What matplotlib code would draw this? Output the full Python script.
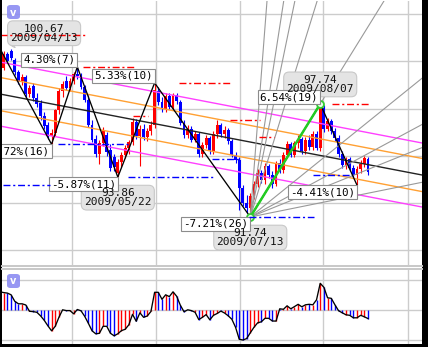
import numpy as np
import pandas as pd
import matplotlib
matplotlib.use("Agg")
import matplotlib.pyplot as plt
from matplotlib.lines import Line2D
from matplotlib.patches import FancyBboxPatch

# USD/JPY daily bars, first bar = 2009-04-06
opens = [100.60, 100.85, 100.00, 99.65, 100.42, 100.55, 100.08, 99.45, 98.95, 99.20,
         98.25, 98.70, 98.05, 97.80, 97.10, 96.60, 96.05, 96.20, 97.40, 98.45,
         98.95, 98.60, 98.95, 99.35, 99.25, 98.65, 97.95, 96.65, 95.90, 95.10,
         95.65, 96.10, 95.30, 94.95, 94.10, 94.65, 95.05, 95.40, 95.70, 96.80,
         96.05, 96.40, 96.00, 96.30, 96.60, 98.45, 97.85, 97.45, 98.15, 97.60,
         98.20, 97.85, 96.75, 96.10, 96.40, 95.85, 96.15, 95.10, 95.55, 95.95,
         95.25, 96.15, 96.65, 96.15, 96.35, 95.75, 95.05, 94.75, 93.30, 92.50,
         92.20, 92.85, 93.50, 94.10, 93.70, 94.45, 93.95, 93.50, 94.60, 94.25,
         95.05, 95.60, 95.05, 95.65, 95.90, 95.25, 95.85, 95.45, 96.15, 95.40,
         97.55, 96.40, 96.85, 96.30, 95.95, 95.10, 94.50, 94.80, 94.35, 93.95,
         94.30, 94.55, 94.80]
highs = [101.40, 101.00, 100.20, 100.55, 100.50, 100.67, 100.20, 99.55, 99.35, 99.30,
         98.75, 98.85, 98.30, 97.95, 97.30, 96.80, 96.40, 97.50, 98.60, 98.95,
         99.25, 99.10, 99.45, 99.71, 99.40, 98.75, 98.20, 96.90, 96.10, 95.85,
         96.50, 96.25, 95.60, 95.10, 94.80, 95.20, 95.55, 95.85, 97.00, 96.95,
         96.60, 96.70, 96.45, 96.85, 98.86, 98.65, 98.10, 98.30, 98.30, 98.35,
         98.35, 97.95, 96.90, 96.60, 96.55, 96.30, 96.25, 95.70, 96.10, 96.05,
         96.30, 96.90, 96.75, 96.55, 96.45, 95.90, 95.20, 94.90, 93.45, 92.90,
         93.00, 93.65, 94.30, 94.25, 94.60, 94.55, 94.20, 94.70, 94.80, 95.20,
         95.75, 95.70, 95.80, 96.10, 96.00, 96.00, 96.10, 96.30, 96.30, 97.74,
         97.70, 97.00, 96.95, 96.45, 96.10, 95.25, 94.95, 94.90, 94.50, 94.45,
         94.75, 95.00, 94.90]
lows = [100.30, 99.80, 99.40, 99.55, 99.90, 100.10, 99.30, 98.80, 98.75, 98.10,
        98.10, 97.90, 97.60, 96.90, 96.40, 95.90, 95.60, 96.05, 97.20, 98.10,
        98.50, 98.45, 98.80, 99.05, 98.55, 97.85, 96.50, 95.70, 94.95, 94.55,
        95.50, 95.00, 94.20, 94.20, 93.86, 94.40, 94.85, 95.10, 95.55, 95.90,
        94.45, 95.85, 95.80, 96.10, 96.45, 97.70, 97.30, 97.30, 97.45, 97.45,
        97.75, 96.60, 95.95, 95.95, 95.70, 95.70, 94.95, 94.95, 95.40, 95.10,
        95.10, 95.95, 96.00, 95.95, 95.60, 94.90, 94.60, 92.10, 92.30, 91.95,
        91.74, 92.70, 93.35, 93.55, 93.50, 93.80, 93.30, 93.40, 94.10, 94.10,
        94.90, 94.90, 94.95, 95.40, 95.10, 95.10, 95.30, 95.30, 95.30, 95.25,
        96.25, 96.30, 96.15, 95.80, 94.95, 94.35, 94.30, 94.20, 93.80, 93.43,
        94.10, 94.40, 93.95]
closes = [100.85, 100.00, 99.65, 100.42, 100.02, 100.20, 99.44, 98.95, 99.20, 98.25,
          98.60, 98.05, 97.75, 97.10, 96.55, 96.05, 96.20, 97.40, 98.45, 98.80,
          98.60, 98.95, 99.35, 99.25, 98.65, 97.95, 96.65, 95.85, 95.10, 95.65,
          96.30, 95.20, 94.35, 94.40, 94.65, 95.05, 95.40, 95.70, 96.80, 96.05,
          96.40, 96.00, 96.30, 96.60, 98.50, 97.85, 97.45, 98.15, 97.60, 98.20,
          97.90, 96.75, 96.10, 96.40, 95.85, 96.15, 95.10, 95.55, 95.95, 95.25,
          96.15, 96.65, 96.15, 96.35, 95.75, 95.05, 94.75, 93.30, 92.50, 92.20,
          92.85, 93.50, 94.10, 93.70, 94.45, 93.95, 93.50, 94.60, 94.25, 95.05,
          95.60, 95.05, 95.65, 95.90, 95.25, 95.85, 95.45, 96.15, 95.40, 97.55,
          96.40, 96.85, 96.30, 95.95, 95.10, 94.50, 94.80, 94.35, 93.95, 94.30,
          94.55, 94.85, 94.15]

# oscillator shown in the lower pane
osc = [22.0, 20.0, 18.5, 17.7, 17.2, 15.5, 9.0, 6.5, 6.5, 5.3,
       -1.0, -1.3, -2.0, -5.5, -10.0, -15.5, -20.5, -16.0, -7.0, 0.5,
       -0.3, -0.3, -3.5, 0.8, -0.5, -6.0, -13.0, -20.5, -23.5, -23.0,
       -16.0, -16.0, -23.0, -25.5, -23.5, -20.3, -19.0, -14.5, -4.0, -11.0,
       -2.5, -7.0, -5.7, -1.2, 18.0, 18.0, 11.0, 15.5, 13.7, 18.5,
       14.0, 5.0, -1.5, 0.5, -0.3, -2.0, -9.3, -7.0, -4.3, -9.5,
       -5.0, -3.2, -0.8, -2.7, -5.5, -9.0, -17.0, -29.0, -29.7, -28.3,
       -22.5, -17.0, -12.5, -11.5, -8.0, -8.0, -10.7, -10.8, 1.5, 1.0,
       4.5, 1.5, 3.7, 6.0, 3.5, 5.5, 6.0, 5.5, 10.5, 27.0,
       23.0, 12.5, 12.0, 5.5, -0.5, -2.5, -4.5, -5.0, -7.5, -7.5,
       -5.0, -6.5, -8.3]

dates = pd.bdate_range("2009-04-06", periods=len(closes))

# zigzag swing points (bar index, price) and their move labels
pivot_idx = [0, 16, 23, 34, 44, 70, 89, 99]
pivot_price = [101.40, 95.60, 99.71, 93.86, 98.86, 91.74, 97.74, 93.43]
move_labels = ["-5.72%(16)", "4.30%(7)", "-5.87%(11)", "5.33%(10)",
               "-7.21%(26)", "6.54%(19)", "-4.41%(10)"]

# bars that carry a price/date callout: (index, price, is_high)
callouts = [(5, 100.67, True), (34, 93.86, False), (70, 91.74, False), (89, 97.74, True)]

# horizontal level marks: start, end, price, kind
level_start = [2, 24.5, 38, 50.6, 64.5, 72.4, 92.2, 2.8, 17.7, 36.8, 59.6, 69.6, 87.0]
level_end = [25, 38.7, 42.2, 64.8, 72.6, 76.4, 102.5, 15.6, 36.8, 60.4, 67.2, 87.3, 97.6]
level_price = [101.40, 99.71, 97.10, 98.86, 96.89, 95.99, 97.74,
               93.44, 95.60, 93.86, 94.82, 91.74, 93.97]
level_kind = ["hi"] * 7 + ["lo"] * 6

# regression channel: centre line at the two plot edges, band offsets
chan_x = [2.53, 116.66]
chan_mid = [98.25, 93.97]
chan_inner = 0.88
chan_outer = 1.70

# gann fan from the July low, 1x1 = the Jul 13 -> Aug 7 swing
fan_origin = (70, 91.74)
fan_ratios = [8, 4, 3, 2, 1, 1 / 2, 1 / 3, 1 / 4, 1 / 8]

grid_x = [21.55, 44.38, 67.2, 89.75, 112.86]
grid_price = [90, 92.5, 95, 97.5, 100, 102.5]
grid_osc = [-30, 0, 30]

W, H = 428, 347
MONO = "DejaVu Sans Mono"


def px_rect(x0, y0, x1, y1):
    # pixel box measured from the top-left corner -> figure fractions
    return [x0 / W, 1 - y1 / H, (x1 - x0) / W, (y1 - y0) / H]


fig = plt.figure(figsize=(W / 100, H / 100), dpi=100, facecolor="black")

bg = fig.add_axes(px_rect(2, 0, 422, 344))
bg.set_xticks([])
bg.set_yticks([])
for s in bg.spines.values():
    s.set_visible(False)
bg.set_facecolor("white")

for yy in (265.5, 268.5):
    fig.add_artist(Line2D([2 / W, 422 / W], [1 - yy / H] * 2, color="#c8c8c8", lw=1.4))

ax = fig.add_axes(px_rect(2, 1, 422, 265))
ax2 = fig.add_axes(px_rect(2, 269, 422, 344))
for a in (ax, ax2):
    a.set_facecolor("none")
    for s in a.spines.values():
        s.set_visible(False)
    a.set_xticks(grid_x)
    a.tick_params(length=0, labelbottom=False, labelleft=False)
    a.grid(True, color="#cccccc", lw=1)
    a.set_axisbelow(True)
    a.set_xlim(chan_x[0], chan_x[1])

ax.set_ylim(89.19, 103.21)
ax.set_yticks(grid_price)
ax2.set_ylim(-33.7, 41.3)
ax2.set_yticks(grid_osc)

o = np.array(opens)
h = np.array(highs)
l = np.array(lows)
c = np.array(closes)
x = np.arange(len(c))
cols = np.where(c >= o, "#ff0000", "#0000ff")

# candles
ax.vlines(x, l, h, colors=cols, lw=0.8, zorder=2)
body = np.maximum(np.abs(c - o), 0.03)
ax.bar(x, body, bottom=np.minimum(o, c), width=0.78, color=cols, lw=0, zorder=2)

# regression channel
xe = np.array(chan_x)
mid = np.array(chan_mid)
ax.plot(xe, mid, color="#222222", lw=1.0, zorder=3)
for off in (chan_inner, -chan_inner):
    ax.plot(xe, mid + off, color="#ffa033", lw=1.0, zorder=3)
for off in (chan_outer, -chan_outer):
    ax.plot(xe, mid + off, color="#ff40ff", lw=1.0, zorder=3)

# gann fan
unit = (pivot_price[6] - pivot_price[5]) / (pivot_idx[6] - pivot_idx[5])
fx = np.array([fan_origin[0], chan_x[1] + 1])
for r in fan_ratios:
    ax.plot(fx, fan_origin[1] + r * unit * (fx - fan_origin[0]), color="#999999", lw=0.8, zorder=3)

# level marks
for xs, xe_, p, k in zip(level_start, level_end, level_price, level_kind):
    ax.plot([xs, xe_], [p, p], color="#ff0000" if k == "hi" else "#0000ff",
            lw=1.0, ls=(0, (5, 2, 1.5, 2)), zorder=8)

# zigzag
ax.plot(pivot_idx, pivot_price, color="black", lw=0.95, zorder=4)
ax.plot(pivot_idx[5:7], pivot_price[5:7], color="#22cc22", lw=1.8, zorder=5)
ax.plot(pivot_idx[5:7], pivot_price[5:7], "o", ms=5, mfc="#eaffea", mec="#33cc33", mew=1.3, zorder=6)

# move labels at the end of each leg
for i, txt in enumerate(move_labels):
    xi, pi = pivot_idx[i + 1], pivot_price[i + 1]
    down = pi < pivot_price[i]
    ax.annotate(txt, (xi, pi), xytext=(-2, -2 if down else 2), textcoords="offset pixels",
                ha="right", va="top" if down else "bottom", fontsize=7.8, family=MONO,
                bbox=dict(boxstyle="square,pad=0.2", fc="white", ec="#8c8c8c", lw=0.8),
                zorder=7, clip_on=True)

# price / date callouts
for xi, p, is_high in callouts:
    txt = f"{p:.2f}\n{dates[xi]:%Y/%m/%d}"
    dx = 33 if xi == 5 else 0
    dy = (6 if xi == 5 else 10) if is_high else -11
    kw = dict(xytext=(dx, dy), textcoords="offset pixels", ha="center",
              va="bottom" if is_high else "top", fontsize=8, family=MONO,
              linespacing=0.9, multialignment="center", annotation_clip=False)
    box = dict(boxstyle="round,pad=0.25,rounding_size=0.5", fc="#e4e4e4", ec="#c8c8c8", lw=0.8)
    if xi == 5:
        ax.annotate(txt, (xi, p), color="none", bbox=box, zorder=6,
                    arrowprops=dict(arrowstyle="wedge,tail_width=0.5", fc="#e4e4e4",
                                    ec="#c8c8c8", lw=0.8, relpos=(0.08, 0.1),
                                    shrinkA=0, shrinkB=2), **kw)
    else:
        ax.annotate(txt, (xi, p), color="none", bbox=box, zorder=6, **kw)
    ax.annotate(txt, (xi, p), color="#111111", zorder=8, **kw)

# lower pane
ax2.vlines(x, 0, osc, colors=cols, lw=1.0, zorder=2)
ax2.plot(x, osc, color="black", lw=0.95, zorder=3)

# collapse buttons
for y0 in (5, 274):
    fig.add_artist(FancyBboxPatch((7 / W, 1 - (y0 + 14) / H), 13 / W, 14 / H,
                                  boxstyle="round,pad=0,rounding_size=0.008",
                                  transform=fig.transFigure, fc="#8c8cf2", ec="none", alpha=0.9))
    fig.text(13.5 / W, 1 - (y0 + 7.5) / H, "v", color="white", fontsize=7, fontweight="bold",
             ha="center", va="center")

fig.savefig("out.png", dpi=100, facecolor=fig.get_facecolor())
